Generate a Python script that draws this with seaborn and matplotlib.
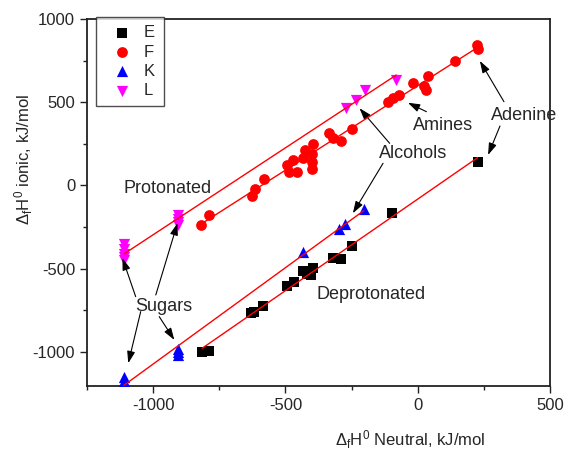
import matplotlib
matplotlib.use("Agg")
import matplotlib.pyplot as plt
import seaborn as sns
import numpy as np
import pandas as pd
from matplotlib.ticker import MultipleLocator

# ---- data ----
E_x = [-815, -790, -630, -618, -586, -494, -466, -432, -420, -397, -403, -321, -289, -247, -96, 227]
E_y = [-998, -992, -768, -760, -724, -602, -578, -512, -530, -497, -538, -437, -443, -363, -167, 141]

F_x = [-820, -790, -625, -615, -580, -495, -472, -485, -457, -434, -425, -395, -400, -400, -400,
       -335, -320, -290, -248, -112, -93, -72, -18, 23, 30, 39, 140, 225, 228]
F_y = [-235, -180, -65, -20, 40, 120, 150, 80, 80, 165, 210, 250, 190, 140, 100,
       315, 285, 265, 340, 500, 525, 545, 615, 595, 575, 660, 745, 845, 820]

K_x = [-1110, -1110, -1110, -905, -905, -905, -434, -298, -274, -204]
K_y = [-1150, -1175, -1195, -980, -1000, -1020, -398, -263, -231, -141]

L_x = [-1110, -1110, -1110, -1110, -1110, -905, -905, -905, -905, -270, -235, -201, -81]
L_y = [-350, -380, -410, -430, -450, -180, -200, -220, -240, 464, 514, 574, 634]

series_names = ["E", "F", "K", "L"]
series_colors = ["black", "red", "blue", "magenta"]
series_markers = ["s", "o", "^", "v"]
series_sizes = [45, 60, 65, 65]

x_ticks = [-1000, -500, 0, 500]
y_ticks = [-1000, -500, 0, 500, 1000]

# ---- style ----
sns.set_style("ticks")
plt.rcParams["font.family"] = ["Liberation Sans", "DejaVu Sans"]
plt.rcParams["mathtext.fontset"] = "custom"
plt.rcParams["mathtext.rm"] = "Liberation Sans"
plt.rcParams["mathtext.it"] = "Liberation Sans:italic"
plt.rcParams["axes.unicode_minus"] = False

fig = plt.figure(figsize=(5.66, 4.51), dpi=100)
ax = fig.add_axes([0.1537, 0.1441, 0.818, 0.8138])

data = {"E": (E_x, E_y), "F": (F_x, F_y), "K": (K_x, K_y), "L": (L_x, L_y)}

for name, c, m, s in zip(series_names, series_colors, series_markers, series_sizes):
    xs, ys = data[name]
    df = pd.DataFrame({"x": xs, "y": ys})
    sns.scatterplot(data=df, x="x", y="y", ax=ax, color=c, marker=m, s=s,
                    edgecolor=c, linewidth=0, label=name, zorder=3)

# fit lines (red)
for name in ["L", "F", "K", "E"]:
    xs, ys = data[name]
    df = pd.DataFrame({"x": xs, "y": ys})
    sns.regplot(data=df, x="x", y="y", ax=ax, scatter=False, ci=None, truncate=True,
                line_kws=dict(color="red", lw=1.0, zorder=4))

ax.set_xlim(-1250, 500)
ax.set_ylim(-1205, 1000)
ax.set_xticks(x_ticks)
ax.set_yticks(y_ticks)
ax.xaxis.set_minor_locator(MultipleLocator(250))
ax.yaxis.set_minor_locator(MultipleLocator(250))
ax.tick_params(which="both", direction="out", top=False, right=False, labelsize=12, width=1.0, color="#222222")
ax.tick_params(which="major", length=5)
ax.tick_params(which="minor", length=3)
for sp in ax.spines.values():
    sp.set_visible(True)
    sp.set_linewidth(1.3)
    sp.set_color("#222222")

ax.set_xlabel(r"$\mathregular{\Delta_f H^0}$ Neutral, kJ/mol", fontsize=12)
ax.set_ylabel(r"$\mathregular{\Delta_f H^0}$ ionic, kJ/mol", fontsize=12)
ax.xaxis.set_label_coords(0.698, -0.115)
ax.yaxis.set_label_coords(-0.112, 0.616)

# text labels
ax.text(-947, -21, "Protonated", fontsize=13, ha="center", va="center")
ax.text(-178, -658, "Deprotonated", fontsize=13, ha="center", va="center")
ax.text(-958, -730, "Sugars", fontsize=13, ha="center", va="center")
ax.text(-19, 189, "Alcohols", fontsize=13, ha="center", va="center")
ax.text(95, 363, "Amines", fontsize=13, ha="center", va="center")
ax.text(402, 423, "Adenine", fontsize=13, ha="center", va="center")

arrows = [
    ((-1066, -668), (-1116, -437)),
    ((-990, -658), (-908, -227)),
    ((-1047, -758), (-1094, -1068)),
    ((-977, -788), (-920, -928)),
    ((-106, 253), (-220, 464)),
    ((-131, 133), (-245, -167)),
    ((33, 443), (-37, 497)),
    ((326, 503), (235, 748)),
    ((311, 357), (266, 183)),
]
for start, end in arrows:
    ax.annotate("", xy=end, xytext=start,
                arrowprops=dict(arrowstyle="-|>,head_length=0.6,head_width=0.2", color="black",
                                lw=0.8, shrinkA=0, shrinkB=0, mutation_scale=12))

leg = ax.legend(loc="upper left", bbox_to_anchor=(0.019, 1.005), borderaxespad=0,
                fontsize=12, frameon=True, fancybox=False, edgecolor="#222222",
                handlelength=2.1, handletextpad=0.3, borderpad=0.5, labelspacing=0.25)
leg.get_frame().set_linewidth(1.0)
leg.set_zorder(5)

fig.savefig("out.png", dpi=100)
